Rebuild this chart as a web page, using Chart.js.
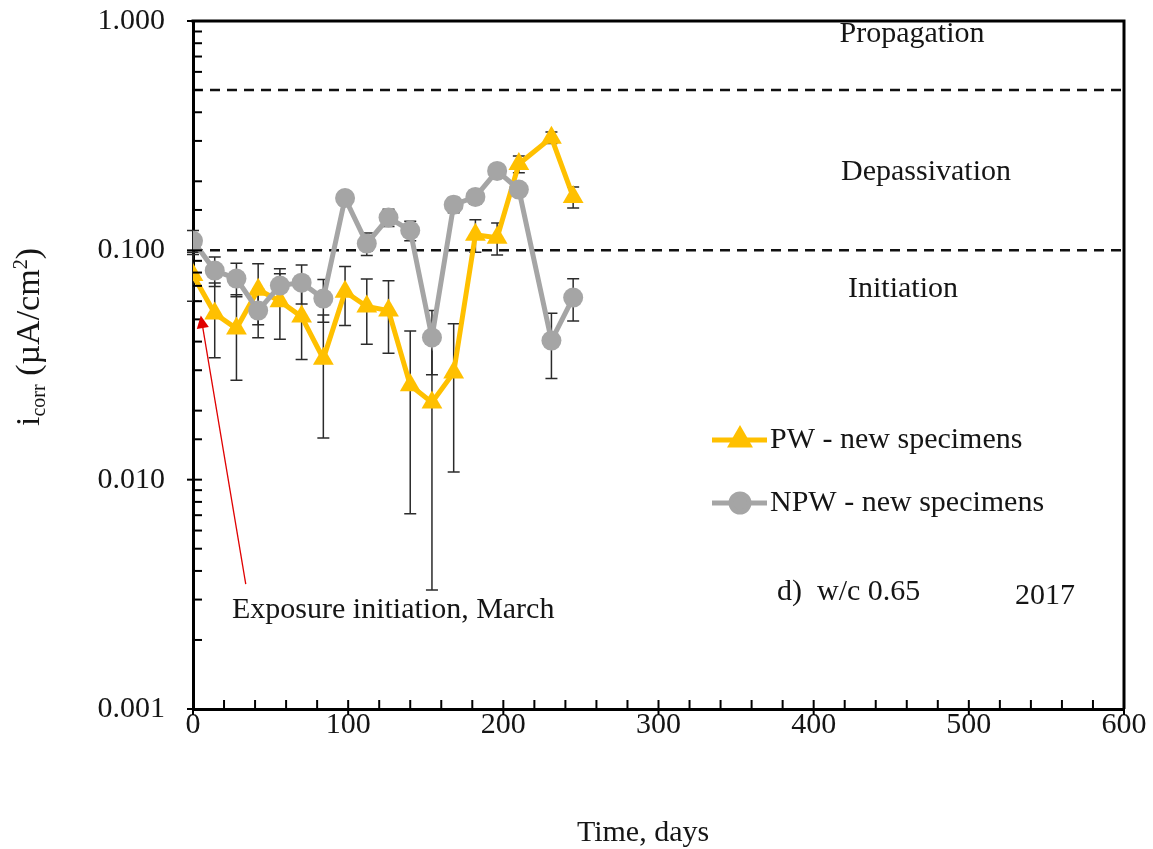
<!DOCTYPE html>
<html>
<head>
<meta charset="utf-8">
<script src="https://cdn.jsdelivr.net/npm/chart.js@4.4.0/dist/chart.umd.min.js"></script>
<style>
  html, body { margin: 0; padding: 0; background: #fff; }
</style>
</head>
<body>
<canvas id="myChart" width="1153" height="849"></canvas>
<script>
// Data (days, corrosion current density in uA/cm2)
const days = [0, 14, 28, 42, 56, 70, 84, 98, 112, 126, 140, 154, 168, 182, 196, 210, 231, 245];
const pwValues = [0.078, 0.053, 0.0456, 0.0674, 0.060, 0.0514, 0.0337, 0.066, 0.0569, 0.0546, 0.0258, 0.0217, 0.0293, 0.117, 0.1135, 0.238, 0.31, 0.171];
const pwErrors = [0.018, 0.019, 0.0185, 0.020, 0.019, 0.018, 0.0185, 0.019, 0.018, 0.019, 0.0187, 0.0184, 0.0185, 0.019, 0.018, 0.020, 0.018, 0.018];
const npwValues = [0.110, 0.0816, 0.0753, 0.0546, 0.0702, 0.0723, 0.0616, 0.169, 0.107, 0.139, 0.122, 0.0417, 0.158, 0.171, 0.222, 0.184, 0.0404, 0.0622];
const npwErrors = [0.012, 0.012, 0.0125, 0.013, 0.013, 0.014, 0.013, 0.012, 0.012, 0.012, 0.012, 0.013, 0.012, 0.012, 0.012, 0.012, 0.0128, 0.013];
const thresholds = [0.1, 0.5];
const thresholdSpan = [0, 600];
const yTickLabels = ['0.001', '0.010', '0.100', '1.000'];
const xTickLabels = ['0', '100', '200', '300', '400', '500', '600'];
const seriesNames = ['PW - new specimens', 'NPW - new specimens'];
const arrowFrom = { x: 34, y: 0.0035 };
const arrowTo = { x: 5, y: 0.052 };

const YELLOW = '#FFC000';
const GREY = '#A5A5A5';
const INK = '#151515';
const FONT = '"Liberation Serif", "Times New Roman", serif';

Chart.defaults.font.family = FONT;
Chart.defaults.color = INK;

// Excel-like extras: error bars, inward ticks, box, annotations, legend
const overlay = {
    id: 'overlay',
    beforeDatasetsDraw(chart) {
        const { ctx, scales: { x, y } } = chart;
        ctx.save();
        ctx.strokeStyle = '#2b2b2b';
        ctx.lineWidth = 1.5;
        [[pwValues, pwErrors], [npwValues, npwErrors]].forEach(([vals, errs]) => {
            vals.forEach((v, i) => {
                const px = x.getPixelForValue(days[i]);
                const top = y.getPixelForValue(v + errs[i]);
                const bot = y.getPixelForValue(v - errs[i]);
                ctx.beginPath();
                ctx.moveTo(px, top); ctx.lineTo(px, bot);
                ctx.moveTo(px - 6, top); ctx.lineTo(px + 6, top);
                ctx.moveTo(px - 6, bot); ctx.lineTo(px + 6, bot);
                ctx.stroke();
            });
        });
        ctx.restore();
    },
    afterDraw(chart) {
        const { ctx, chartArea: a, scales: { x, y } } = chart;
        ctx.save();

        // box (top and right)
        ctx.strokeStyle = '#000';
        ctx.lineWidth = 3;
        ctx.beginPath();
        ctx.moveTo(a.left - 1.5, a.top); ctx.lineTo(a.right, a.top); ctx.lineTo(a.right, a.bottom);
        ctx.stroke();

        // inward ticks
        ctx.lineWidth = 2;
        x.ticks.forEach(t => {
            const px = x.getPixelForValue(t.value);
            const major = t.value % 100 === 0;
            ctx.beginPath();
            ctx.moveTo(px, a.bottom - 9);
            ctx.lineTo(px, a.bottom + (major ? 6 : 0));
            ctx.stroke();
        });
        y.ticks.forEach(t => {
            const py = y.getPixelForValue(t.value);
            const l = Math.log10(t.value);
            const major = Math.abs(l - Math.round(l)) < 1e-6;
            ctx.beginPath();
            ctx.moveTo(a.left - (major ? 6 : 0), py);
            ctx.lineTo(a.left + 9, py);
            ctx.stroke();
        });

        // red arrow
        const ax0 = x.getPixelForValue(arrowFrom.x), ay0 = y.getPixelForValue(arrowFrom.y);
        const ax1 = x.getPixelForValue(arrowTo.x), ay1 = y.getPixelForValue(arrowTo.y);
        const ang = Math.atan2(ay1 - ay0, ax1 - ax0);
        ctx.strokeStyle = '#e00000';
        ctx.fillStyle = '#e00000';
        ctx.lineWidth = 1.3;
        ctx.beginPath();
        ctx.moveTo(ax0, ay0); ctx.lineTo(ax1 - Math.cos(ang) * 8, ay1 - Math.sin(ang) * 8);
        ctx.stroke();
        ctx.beginPath();
        ctx.moveTo(ax1, ay1);
        ctx.lineTo(ax1 - Math.cos(ang - 0.45) * 14, ay1 - Math.sin(ang - 0.45) * 14);
        ctx.lineTo(ax1 - Math.cos(ang + 0.45) * 14, ay1 - Math.sin(ang + 0.45) * 14);
        ctx.closePath();
        ctx.fill();

        // annotation texts
        ctx.fillStyle = INK;
        ctx.textBaseline = 'middle';
        ctx.font = '30px ' + FONT;
        ctx.textAlign = 'center';
        ctx.fillText('Propagation', 912, 34);
        ctx.fillText('Depassivation', 926, 172);
        ctx.fillText('Initiation', 903, 289);
        ctx.fillText('Time, days', 643, 833);
        ctx.textAlign = 'left';
        ctx.fillText('Exposure initiation, March', 232, 610);
        ctx.fillText('d)  w/c 0.65', 777, 592);
        ctx.fillText('2017', 1015, 596);

        // legend
        const rows = [
            { y: 440, color: YELLOW, style: 'triangle', r: 10 },
            { y: 503, color: GREY, style: 'circle', r: 9 }
        ];
        rows.forEach((r, i) => {
            ctx.strokeStyle = r.color;
            ctx.fillStyle = r.color;
            ctx.lineWidth = 5;
            ctx.beginPath();
            ctx.moveTo(712, r.y); ctx.lineTo(767, r.y);
            ctx.stroke();
            Chart.helpers.drawPoint(ctx, { pointStyle: r.style, radius: r.r, borderWidth: 1 }, 740, r.y);
            ctx.fillStyle = INK;
            ctx.fillText(seriesNames[i], 770, r.y);
        });

        // y title with sub/superscript
        ctx.translate(28, 337);
        ctx.rotate(-Math.PI / 2);
        const big = '34px ' + FONT, small = '20px ' + FONT;
        const parts = [
            { t: 'i', f: big, dy: 0 },
            { t: 'corr', f: small, dy: 6 },
            { t: ' (\u00b5A/cm', f: big, dy: 0 },
            { t: '2', f: small, dy: -12 },
            { t: ')', f: big, dy: 0 }
        ];
        let w = 0;
        parts.forEach(p => { ctx.font = p.f; w += ctx.measureText(p.t).width; });
        let cx = -w / 2;
        ctx.textAlign = 'left';
        ctx.textBaseline = 'alphabetic';
        parts.forEach(p => {
            ctx.font = p.f;
            ctx.fillText(p.t, cx, 11 + p.dy);
            cx += ctx.measureText(p.t).width;
        });
        ctx.restore();
    }
};

const ctx = document.getElementById('myChart').getContext('2d');
new Chart(ctx, {
    type: 'line',
    data: {
        datasets: [
            {
                label: seriesNames[1],
                data: days.map((d, i) => ({ x: d, y: npwValues[i] })),
                borderColor: GREY,
                backgroundColor: GREY,
                borderWidth: 5,
                pointStyle: 'circle',
                pointRadius: 10,
                pointBorderWidth: 0,
                tension: 0,
                order: 1
            },
            {
                label: seriesNames[0],
                data: days.map((d, i) => ({ x: d, y: pwValues[i] })),
                borderColor: YELLOW,
                backgroundColor: YELLOW,
                borderWidth: 5,
                pointStyle: 'triangle',
                pointRadius: 12,
                pointBorderWidth: 0,
                tension: 0,
                order: 2
            },
            ...thresholds.map(t => ({
                label: 'limit ' + t,
                data: thresholdSpan.map(d => ({ x: d, y: t })),
                borderColor: '#111',
                borderWidth: 2.5,
                borderDash: [10, 7],
                pointRadius: 0,
                order: 3
            }))
        ]
    },
    options: {
        responsive: false,
        animation: false,
        layout: { padding: { left: 0, top: 21, right: 29, bottom: 0 } },
        plugins: { legend: { display: false }, tooltip: { enabled: false } },
        scales: {
            x: {
                type: 'linear',
                min: 0,
                max: 600,
                grid: { display: false, drawTicks: false },
                border: { display: true, color: '#000', width: 3 },
                ticks: {
                    stepSize: 20,
                    autoSkip: false,
                    maxRotation: 0,
                    padding: -2,
                    font: { size: 30 },
                    callback: v => xTickLabels.includes(String(v)) ? String(v) : ''
                },
                afterFit: s => { s.height = 140; }
            },
            y: {
                type: 'logarithmic',
                min: 0.001,
                max: 1,
                grid: { display: false, drawTicks: false },
                border: { display: true, color: '#000', width: 3 },
                ticks: {
                    autoSkip: false,
                    padding: 28,
                    font: { size: 30 },
                    callback: v => {
                        const s = Number(v).toFixed(3);
                        const l = Math.log10(v);
                        return Math.abs(l - Math.round(l)) < 1e-6 && yTickLabels.includes(s) ? s : '';
                    }
                },
                afterFit: s => { s.width = 193; s.paddingTop = 0; s.paddingBottom = 0; }
            }
        }
    },
    plugins: [overlay]
});
</script>
</body>
</html>
